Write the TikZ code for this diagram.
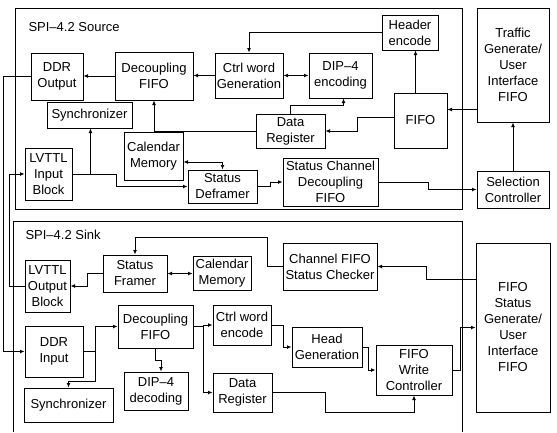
\documentclass[tikz,border=0pt]{standalone}
\usepackage{fontspec}
\setmainfont{Liberation Sans}
\usetikzlibrary{arrows.meta,positioning}

\begin{document}
\begin{tikzpicture}[x=1pt,y=-1pt,font=\fontsize{13}{16}\selectfont,
  blk/.style={draw,line width=1pt,align=center,inner sep=1pt},
  frame/.style={draw,line width=1pt},
  arr/.style={line width=.9pt,-{Latex[length=4.5pt,width=4pt]}},
  dblarr/.style={line width=.9pt,{Latex[length=4.5pt,width=4pt]}-{Latex[length=4.5pt,width=4pt]}}]
\useasboundingbox (0,0) rectangle (557,432);

% SPI-4.2 Source
\draw[frame] (15,8) rectangle (462,209);
\node[anchor=west] (srclbl) at (25,27) {SPI--4.2 Source};
\node[blk,minimum width=52,minimum height=47] (ddrout) at (57,76.5) {DDR\\Output};
\node[blk,minimum width=78,minimum height=48] (decfifo) at (154,76) {Decoupling\\FIFO};
\node[blk,minimum width=68,minimum height=45] (ctrlgen) at (249,75.5) {Ctrl word\\Generation};
\node[blk,minimum width=63,minimum height=45] (dipenc) at (340.5,75.5) {DIP--4\\encoding};
\node[blk,minimum width=56,minimum height=35] (hdrenc) at (410,32.5) {Header\\encode};
\node[blk,minimum width=53,minimum height=55] (srcfifo) at (420.5,120.5) {FIFO};
\node[blk,minimum width=69,minimum height=34] (srcdreg) at (290.5,131) {Data\\Register};
\node[blk,minimum width=85,minimum height=26] (srcsync) at (89.5,115) {Synchronizer};
\node[blk,minimum width=47,minimum height=52] (lvin) at (48.5,174) {LVTTL\\Input\\Block};
\node[blk,minimum width=59,minimum height=48] (srccal) at (153.5,156) {Calendar\\Memory};
\node[blk,minimum width=69,minimum height=33] (deframer) at (222.5,186.5) {Status\\Deframer};
\node[blk,minimum width=95,minimum height=48] (scdfifo) at (330.5,182) {Status Channel\\Decoupling\\FIFO};
\node[blk,minimum width=72,minimum height=114] (traffic) at (513,65) {Traffic\\Generate/\\User\\Interface\\FIFO};
\node[blk,minimum width=72,minimum height=37] (selctrl) at (513,189.5) {Selection\\Controller};

% SPI-4.2 Sink
\draw[frame] (13,432) |- (462,221) -- (462,432);
\node[anchor=west] (snklbl) at (22,235) {SPI--4.2 Sink};
\node[blk,minimum width=45,minimum height=52] (lvout) at (47.5,286) {LVTTL\\Output\\Block};
\node[blk,minimum width=64,minimum height=37] (framer) at (135,273.5) {Status\\Framer};
\node[blk,minimum width=58,minimum height=34] (snkcal) at (222,273) {Calendar\\Memory};
\node[blk,minimum width=94,minimum height=47] (chkr) at (330,266.5) {Channel FIFO\\Status Checker};
\node[blk,minimum width=58,minimum height=51] (ddrin) at (54,351.5) {DDR\\Input};
\node[blk,minimum width=75,minimum height=43] (snkdec) at (155.5,326.5) {Decoupling\\FIFO};
\node[blk,minimum width=58,minimum height=40] (ctrlenc) at (242,325) {Ctrl word\\encode};
\node[blk,minimum width=64,minimum height=38] (dipdec) at (156,391) {DIP--4\\decoding};
\node[blk,minimum width=59,minimum height=39] (snkdreg) at (242.5,392.5) {Data\\Register};
\node[blk,minimum width=89,minimum height=34] (snksync) at (68.5,405) {Synchronizer};
\node[blk,minimum width=70,minimum height=40] (headgen) at (327,347) {Head\\Generation};
\node[blk,minimum width=76,minimum height=50] (fwc) at (414,370) {FIFO\\Write\\Controller};
\node[blk,minimum width=74,minimum height=169] (statgen) at (513,327.5) {FIFO\\Status\\Generate/\\User\\Interface\\FIFO};

% source links
\draw[arr] (ctrlgen.west) -- (ctrlgen.west -| decfifo.east);
\draw[arr] (decfifo.west) -- (decfifo.west -| ddrout.east);
\draw[dblarr] (ctrlgen.east) -- (ctrlgen.east -| dipenc.west);
\draw[arr] (hdrenc.west) -| (ctrlgen.north);
\draw[arr] ([xshift=-5pt]srcfifo.north) -- ([xshift=-5pt]srcfifo.north |- hdrenc.south);
\draw[arr] ([yshift=3pt]srcfifo.west) -- ++(-36,0) |- (srcdreg.east);
\draw[arr] (srcdreg.north) -- ++(0,-8) -| ([xshift=3pt]dipenc.south);
\draw[arr] (srcdreg.west) -| (decfifo.south);
\coordinate (t2f) at ([yshift=11pt]srcfifo.east);
\draw[arr] (t2f -| traffic.west) -- (t2f);
\draw[arr] (selctrl.north) -- (traffic.south);
\draw[arr] (scdfifo.east) -- ++(50,0) |- (selctrl.west);
\draw[arr] (deframer.east) -- ++(13,0) |- (scdfifo.west);
\draw[dblarr] (deframer.north) |- ([yshift=-6pt]srccal.east);
\draw (lvin.east) -- ++(18,0) coordinate (j1);
\draw[arr] (j1) -- (j1 |- srcsync.south);
\draw[arr] (j1) -- ++(26,0) |- (deframer.west);

% links between source and sink
\draw[arr] (ddrout.west) -- ++(-27,0) |- (ddrin.west);
\draw[arr] (lvout.west) -- ++(-15,0) |- (lvin.west);

% sink links
\draw[arr] (chkr.west) -- ++(-15,0) |- ([yshift=17pt]framer.north) -- (framer.north);
\draw[dblarr] (framer.east) -- (framer.east -| snkcal.west);
\draw[arr] (framer.west) -- ++(-15,0) |- (lvout.east);
\coordinate (s2c) at ([yshift=48pt]statgen.west);
\draw[arr] (s2c) -- ++(-49,0) |- (chkr.east);
\draw[arr] (ddrin.east) -- ++(12,0) coordinate (j2) |- (snkdec.west);
\draw[arr] (j2) |- ([yshift=6pt]snksync.north) -- (snksync.north);
\draw[arr] (snkdec.south) -- ++(0,12) -| ([xshift=5pt]dipdec.north);
\draw[arr] (snkdec.east) -- ++(10,0) coordinate (j3) |- (ctrlenc.west);
\draw[arr] (j3) |- (snkdreg.west);
\draw[arr] (ctrlenc.east) -- ++(12,0) |- (headgen.west);
\draw[arr] (headgen.east) -- ++(6,0) |- (fwc.west);
\draw[arr] (snkdreg.east) -- ++(53,0) |- ([yshift=-17pt]fwc.south) -- (fwc.south);
\draw[arr] (fwc.east) -- ++(8,0) |- (statgen.west);
\end{tikzpicture}
\end{document}
